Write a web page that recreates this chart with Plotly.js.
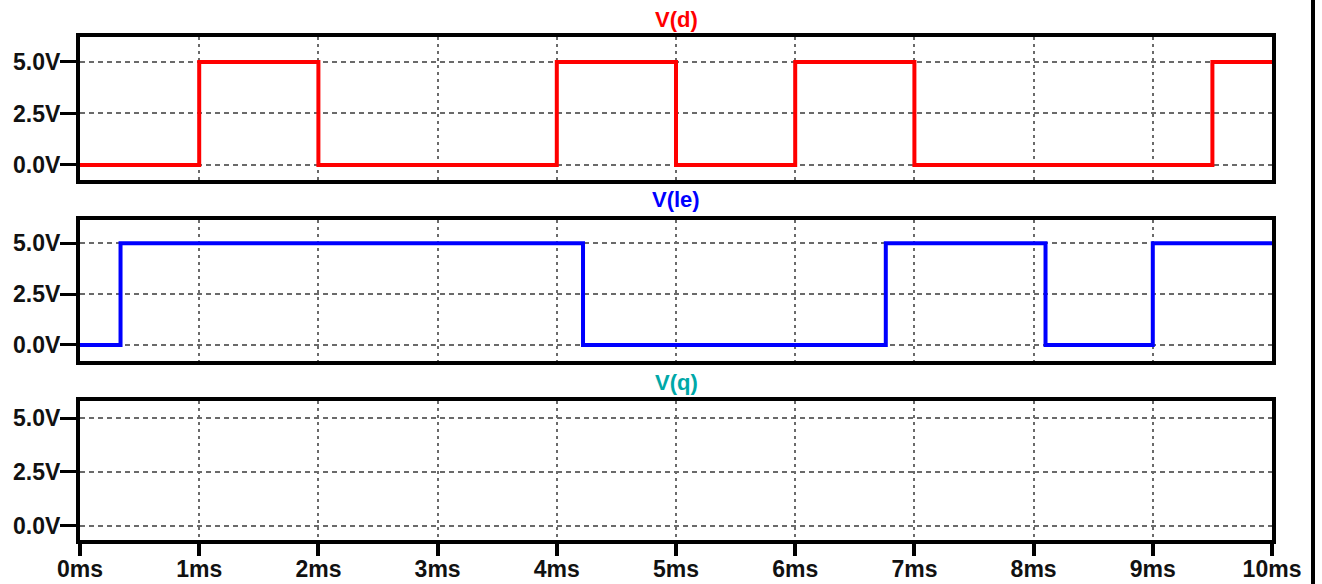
<!DOCTYPE html>
<html>
<head>
<meta charset="utf-8">
<script src="https://cdn.plot.ly/plotly-3.0.1.min.js"></script>
<style>
  html, body { margin: 0; padding: 0; background: #fff; }
  #chart { width: 1322px; height: 584px; position: relative; }
  #edge { position: absolute; left: 1311px; top: 0; width: 4px; height: 584px; background: #000; }
</style>
</head>
<body>
<div id="chart"></div>
<div id="edge"></div>
<script>
// ---- data (time in ms, voltage in V) ----
const timeTicks = [0, 1, 2, 3, 4, 5, 6, 7, 8, 9, 10];
const timeTickLabels = ['0ms', '1ms', '2ms', '3ms', '4ms', '5ms', '6ms', '7ms', '8ms', '9ms', '10ms'];
const voltTicks = [0, 2.5, 5];
const voltTickLabels = ['0.0V', '2.5V', '5.0V'];

const dTime = [0, 1, 2, 4, 5, 6, 7, 9.5, 10];
const dVolt = [0, 5, 0, 5, 0, 5, 0, 5, 5];

const leTime = [0, 0.34, 4.22, 6.76, 8.1, 9.0, 10];
const leVolt = [0, 5, 0, 5, 0, 5, 5];

const qTime = [];
const qVolt = [];

const traceNames = ['V(d)', 'V(le)', 'V(q)'];
const traceColors = ['#ff0000', '#0000ff', '#00a8a8'];

// ---- styling ----
const tickFont = { family: 'Liberation Sans, Arial, sans-serif', size: 23, weight: 'bold', color: '#111' };
const titleFont = { family: 'Liberation Sans, Arial, sans-serif', size: 22, weight: 'bold' };

function xAxis(anchor, showLabels) {
  return {
    anchor: anchor, domain: [0, 1], range: [0, 10],
    tickvals: timeTicks, ticktext: timeTickLabels,
    showticklabels: showLabels, ticks: showLabels ? 'outside' : '',
    ticklen: 12, tickwidth: 4, tickcolor: '#000',
    tickfont: tickFont, ticklabelstandoff: -7,
    showgrid: true, gridcolor: '#6a6a6a', gridwidth: 2, griddash: '3px,4px',
    showline: true, mirror: true, linecolor: '#000', linewidth: 4,
    zeroline: false, fixedrange: true
  };
}
function yAxis(anchor, domain, range) {
  return {
    anchor: anchor, domain: domain, range: range,
    tickvals: voltTicks, ticktext: voltTickLabels,
    ticks: 'outside', ticklen: 16, tickwidth: 3, tickcolor: '#000',
    tickfont: tickFont, ticklabelstandoff: -5,
    showgrid: true, gridcolor: '#6a6a6a', gridwidth: 2, griddash: '5px,4px',
    showline: true, mirror: true, linecolor: '#000', linewidth: 4,
    zeroline: false, fixedrange: true
  };
}

const data = [
  { x: dTime, y: dVolt, xaxis: 'x', yaxis: 'y', name: traceNames[0], mode: 'lines',
    line: { color: traceColors[0], width: 4, shape: 'hv' } },
  { x: leTime, y: leVolt, xaxis: 'x2', yaxis: 'y2', name: traceNames[1], mode: 'lines',
    line: { color: traceColors[1], width: 4, shape: 'hv' } },
  { x: qTime, y: qVolt, xaxis: 'x3', yaxis: 'y3', name: traceNames[2], mode: 'lines',
    line: { color: traceColors[2], width: 4, shape: 'hv' } }
];

const layout = {
  width: 1322, height: 584,
  margin: { l: 80, r: 50, t: 37, b: 44 },
  paper_bgcolor: '#fff', plot_bgcolor: '#fff',
  showlegend: false,
  xaxis: xAxis('y', false),
  yaxis: yAxis('x', [0.7157, 1], [-0.73, 6.21]),
  xaxis2: xAxis('y2', false),
  yaxis2: yAxis('x2', [0.3559, 0.6362], [-0.79, 6.15]),
  xaxis3: xAxis('y3', true),
  yaxis3: yAxis('x3', [0, 0.2763], [-0.665, 5.8]),
  annotations: [
    { text: traceNames[0], xref: 'paper', yref: 'paper', x: 0.5, y: 1.034, xanchor: 'center', yanchor: 'middle',
      showarrow: false, font: Object.assign({}, titleFont, { color: traceColors[0] }) },
    { text: traceNames[1], xref: 'paper', yref: 'paper', x: 0.5, y: 0.676, xanchor: 'center', yanchor: 'middle',
      showarrow: false, font: Object.assign({}, titleFont, { color: traceColors[1] }) },
    { text: traceNames[2], xref: 'paper', yref: 'paper', x: 0.5, y: 0.314, xanchor: 'center', yanchor: 'middle',
      showarrow: false, font: Object.assign({}, titleFont, { color: traceColors[2] }) }
  ]
};

Plotly.newPlot('chart', data, layout, { displayModeBar: false, staticPlot: true });
</script>
</body>
</html>
